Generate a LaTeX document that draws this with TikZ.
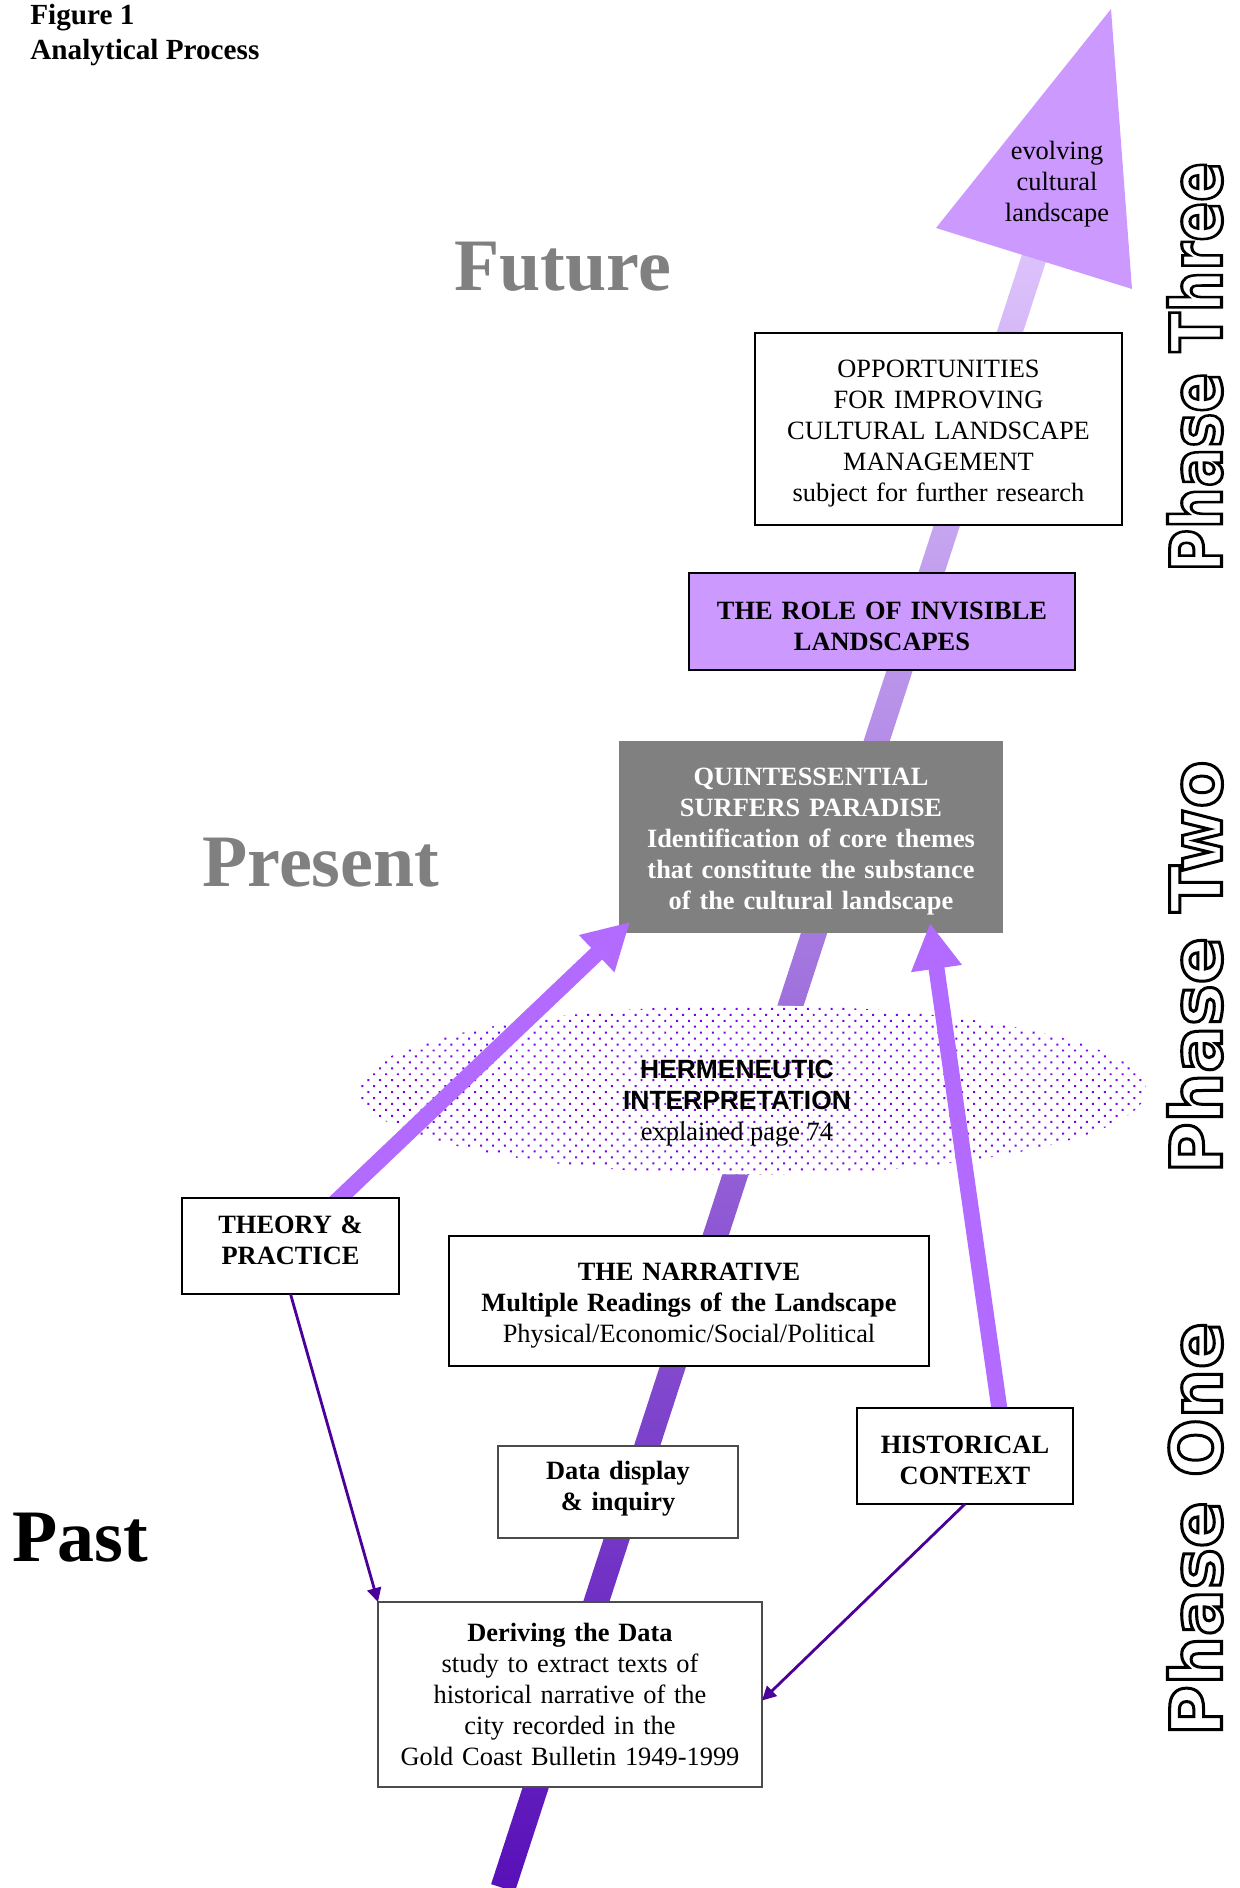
\documentclass[tikz,border=0pt]{standalone}
\usepackage{fontspec}
\setmainfont{Liberation Serif}
\newfontfamily\arialfont{Liberation Sans}
\newfontfamily\phasefont{DejaVu Sans}
\usetikzlibrary{arrows.meta, shapes.geometric, patterns.meta, calc}
\definecolor{shaftdark}{HTML}{5810B8}
\definecolor{shaftmid}{HTML}{A07AE0}
\definecolor{shaftlight}{HTML}{DCC2FB}
\definecolor{headfill}{HTML}{CC99FF}
\definecolor{sidepurple}{HTML}{B36BFF}
\definecolor{thinpurple}{HTML}{4B0099}
\definecolor{dotpurple}{HTML}{7A00F0}
\definecolor{quintgray}{HTML}{808080}
\newcommand{\boxfont}{\fontsize{13.2}{15.5}\selectfont}
\newcommand{\boxstrut}{\rule{0pt}{13.2pt}}
\newcommand{\boxdrop}[1]{\rule[-#1]{0pt}{#1}}
\newcommand{\outlinetext}[1]{\special{pdf:literal direct 1 Tr 1.2 w}#1\special{pdf:literal direct 0 Tr}}
\tikzset{textbox/.style={draw,fill=white,line width=0.6pt,inner sep=0pt,outer sep=0pt,align=center,font=\boxfont},
         heavybox/.style={textbox,line width=1.1pt},
         bigarrow/.style={draw=sidepurple,line width=8pt,-{Triangle[length=23pt,width=24pt]}},
         thinarrow/.style={draw=thinpurple,line width=1.4pt,-{Triangle[length=7pt,width=7pt]}},
         timelabel/.style={font=\fontsize{37}{40}\selectfont\bfseries,inner sep=0pt,anchor=base west},
         phaselabel/.style={rotate=90,inner sep=0pt},
        }

\begin{document}
\begin{tikzpicture}[x=0.5pt,y=-0.5pt]
        \useasboundingbox(0,0)rectangle(1240,1888);

        \node[anchor=north west,inner sep=0pt,align=left,font=\fontsize{14.6}{17.5}\selectfont\bfseries](title)at(30,4){Figure 1\\Analytical Process};

        \coordinate(shaftfoot)at(503,1888);
        \coordinate(shafttop)at(1034,258);
        \shade[bottom color=shaftdark,middle color=shaftmid,top color=shaftlight]($(shaftfoot)!6.25pt!90:(shafttop)$)--($(shafttop)!6.25pt!-90:(shaftfoot)$)--($(shafttop)!6.25pt!90:(shaftfoot)$)--($(shaftfoot)!6.25pt!-90:(shafttop)$)--cycle;

        \coordinate(tip)at(1111,9);
        \coordinate(headleft)at(936,228);
        \coordinate(headright)at(1132,289);
        \fill[headfill](tip)--(headleft)--(headright)--cycle;
        \node[font=\boxfont,align=center,inner sep=0pt](evolve)at(1057,184){evolving\\cultural\\landscape};

        \node[timelabel,text=quintgray](future)at(454,291){Future};
        \node[timelabel,text=quintgray](present)at(202,886){Present};
        \node[timelabel](past)at(12,1561){Past};

        \node[ellipse,minimum width=394pt,minimum height=84.5pt,inner sep=0pt,preaction={fill=white},pattern={Dots[distance=4.2pt,radius=0.7pt,angle=45]},pattern color=dotpurple,
              label={[align=center,font=\boxfont,xshift=-7.5pt,yshift=-6.5pt]center:{\arialfont\bfseries HERMENEUTIC}\\{\arialfont\bfseries INTERPRETATION}\\explained page 74}](herm)at(752,1090){};

        \node[textbox,text width=183.5pt,minimum height=96pt](opp)at(938.5,429){\boxstrut OPPORTUNITIES\\FOR IMPROVING\\CULTURAL LANDSCAPE\\MANAGEMENT\\subject for further research};
        \node[heavybox,fill=headfill,text width=193pt,minimum height=48.5pt,font=\boxfont\bfseries](role)at(882,621.5){\boxstrut THE ROLE OF INVISIBLE\\LANDSCAPES};
        \node[textbox,draw=none,fill=quintgray,text=white,font=\boxfont\bfseries,text width=192pt,minimum height=96pt](quint)at(811,837){\boxstrut QUINTESSENTIAL\\SURFERS PARADISE\\Identification of core themes\\that constitute the substance\\of the cultural landscape};

        \coordinate(theoryroot)at(322,1215);
        \coordinate(historyroot)at(1001,1420);
        \draw[bigarrow](theoryroot)--([xshift=5.5pt,yshift=5.5pt]quint.south west);
        \draw[bigarrow](historyroot)--([xshift=-36.5pt,yshift=5pt]quint.south east);

        \node[heavybox,font=\boxfont\bfseries,text width=108.5pt,minimum height=48pt](theory)at(290.5,1246){THEORY \&\\PRACTICE\boxdrop{6pt}};
        \node[heavybox,font=\boxfont\bfseries,text width=108pt,minimum height=48pt](historical)at(965,1456){\boxstrut HISTORICAL\\CONTEXT};
        \node[textbox,line width=0.8pt,text width=240pt,minimum height=65pt](narrative)at(689,1301){\boxstrut\textbf{THE NARRATIVE}\\\textbf{Multiple Readings of the Landscape}\\Physical/Economic/Social/Political};
        \node[textbox,draw=black!70,font=\boxfont\bfseries,text width=120pt,minimum height=46pt](data)at(618,1492){Data display\\\& inquiry\boxdrop{6.5pt}};
        \node[textbox,draw=black!70,text width=192pt,minimum height=92.5pt](deriving)at(570,1694.5){\textbf{Deriving the Data}\\study to extract texts of\\historical narrative of the\\city recorded in the\\Gold Coast Bulletin 1949-1999};

        \draw[thinarrow](theory.south)--(deriving.north west);
        \draw[thinarrow](historical.south)--([yshift=-3pt]deriving.east);

        \node[phaselabel](phasethree)at(1195,367){\resizebox{205pt}{27pt}{\fontsize{28}{30}\selectfont\phasefont\bfseries\outlinetext{Phase Three}}};
        \node[phaselabel](phasetwo)at(1195,967){\resizebox{206.5pt}{27pt}{\fontsize{28}{30}\selectfont\phasefont\bfseries\outlinetext{Phase Two}}};
        \node[phaselabel](phaseone)at(1195,1529){\resizebox{207pt}{27pt}{\fontsize{28}{30}\selectfont\phasefont\bfseries\outlinetext{Phase One}}};
    \end{tikzpicture}
\end{document}
